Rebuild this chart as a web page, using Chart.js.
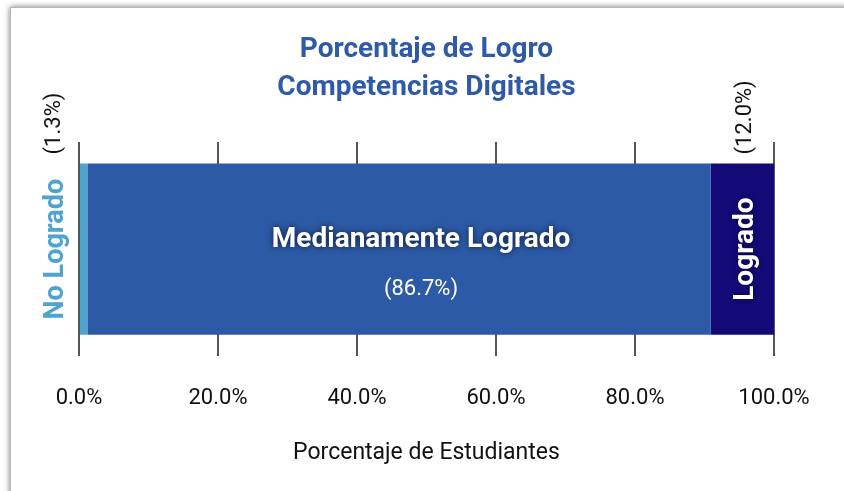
<!DOCTYPE html>
<html>
<head>
<meta charset="utf-8">
<script src="https://cdn.jsdelivr.net/npm/chart.js@4/dist/chart.umd.min.js"></script>
<style>
  html, body { margin: 0; padding: 0; background: #fff; overflow: hidden; }
  #marco {
    position: absolute; left: 10px; top: 7px; width: 1000px; height: 1000px;
    background: #fff; border-left: 1px solid #b5b5b5; border-top: 1px solid #b5b5b5;
    box-shadow: 0 0 6px rgba(0,0,0,0.55);
  }
  #grafico { position: absolute; left: 0; top: 0; }
</style>
</head>
<body>
<div id="marco"></div>
<canvas id="grafico" width="844" height="491"></canvas>
<script>
const categorias = ['Competencias Digitales']
const niveles = ['No Logrado', 'Medianamente Logrado', 'Logrado']
// largo de cada tramo tal como se ve dibujado
const valores = [1.2, 89.7, 9.1]
// textos de porcentaje impresos en el grafico
const etiquetasPct = ['(1.3%)', '(86.7%)', '(12.0%)']
const ticksX = [0, 20, 40, 60, 80, 100]

const celeste = '#4fa3cf'
const azul = '#2d5aa6'
const marino = '#130a77'
const colores = [celeste, azul, marino]

const fuente = 'Roboto, "Open Sans", sans-serif'

const datasets = niveles.map((nivel, i) => ({
    label: nivel,
    data: [valores[i]],
    backgroundColor: colores[i],
    borderWidth: 0,
    barPercentage: 1,
    categoryPercentage: 0.8
}))

// dibuja nombres y porcentajes sobre/junto a cada tramo
const etiquetas = {
    id: 'etiquetas',
    afterDatasetsDraw(chart) {
        const ctx = chart.ctx
        const barras = niveles.map((n, i) => chart.getDatasetMeta(i).data[0])

        function vertical(texto, x, y, align, font, color) {
            ctx.save()
            ctx.translate(x, y)
            ctx.rotate(-Math.PI / 2)
            ctx.font = font
            ctx.fillStyle = color
            ctx.textAlign = align
            ctx.textBaseline = 'middle'
            ctx.fillText(texto, 0, 0)
            ctx.restore()
        }

        // No Logrado (fuera, a la izquierda)
        const b0 = barras[0]
        vertical(niveles[0], b0.base - 24, b0.y, 'center', 'bold 27px ' + fuente, celeste)
        vertical(etiquetasPct[0], b0.base - 26, b0.y - b0.height / 2 - 9, 'left', '22px ' + fuente, '#111')

        // Medianamente Logrado (centro)
        const b1 = barras[1]
        const cx = (b1.base + b1.x) / 2 + 22
        ctx.save()
        ctx.font = 'bold 28px ' + fuente
        ctx.fillStyle = '#fff'
        ctx.textAlign = 'center'
        ctx.textBaseline = 'middle'
        ctx.shadowColor = 'rgba(0,0,0,0.7)'
        ctx.shadowBlur = 6
        ctx.fillText(niveles[1], cx, b1.y - 9)
        ctx.shadowBlur = 0
        ctx.shadowColor = 'transparent'
        ctx.font = '22px ' + fuente
        ctx.fillText(etiquetasPct[1], cx, b1.y + 40)
        ctx.restore()

        // Logrado (dentro del tramo oscuro)
        const b2 = barras[2]
        const cx2 = (b2.base + b2.x) / 2
        ctx.save()
        ctx.shadowColor = 'rgba(0,0,0,0.6)'
        ctx.shadowBlur = 4
        vertical(niveles[2], cx2 + 4, b2.y, 'center', 'bold 28px ' + fuente, '#fff')
        ctx.restore()
        vertical(etiquetasPct[2], cx2 + 3, b2.y - b2.height / 2 - 9, 'left', '22px ' + fuente, '#111')
    }
}

const config = {
    type: 'bar',
    data: { labels: categorias, datasets: datasets },
    options: {
        indexAxis: 'y',
        responsive: false,
        animation: false,
        devicePixelRatio: 1,
        layout: { padding: { left: 79, right: 70, top: 0, bottom: 25 } },
        plugins: {
            legend: { display: false },
            tooltip: { enabled: false },
            title: {
                display: true,
                text: ['Porcentaje de Logro', 'Competencias Digitales'],
                color: '#2e5aa8',
                font: { family: fuente, size: 28, weight: 'bold', lineHeight: 1.357 },
                padding: { top: 31, bottom: 35 }
            }
        },
        scales: {
            x: {
                stacked: true,
                min: 0,
                max: 100,
                afterBuildTicks(axis) { axis.ticks = ticksX.map(v => ({ value: v })) },
                grid: { color: '#555', lineWidth: 2, drawTicks: false },
                border: { display: false },
                ticks: {
                    padding: 29,
                    color: '#111',
                    font: { family: fuente, size: 22 },
                    callback: v => v.toFixed(1) + '%'
                },
                title: {
                    display: true,
                    text: 'Porcentaje de Estudiantes',
                    color: '#111',
                    font: { family: fuente, size: 23, lineHeight: 1.1 },
                    padding: { top: 0, bottom: 0 }
                }
            },
            y: {
                stacked: true,
                display: false
            }
        }
    },
    plugins: [etiquetas]
}

const grafico = new Chart(document.querySelector('#grafico'), config)
</script>
</body>
</html>
